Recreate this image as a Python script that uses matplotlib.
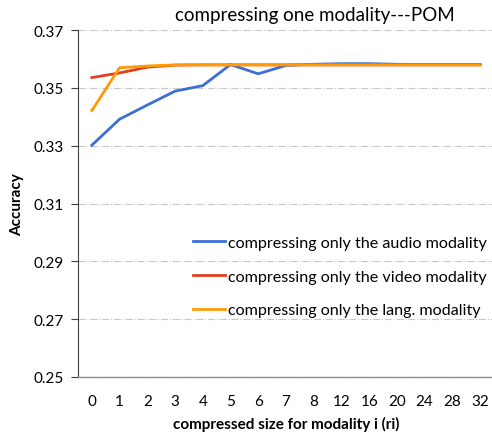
import matplotlib.pyplot as plt
import numpy as np

sizes = ['0', '1', '2', '3', '4', '5', '6', '7', '8', '12', '16', '20', '24', '28', '32']
audio = [0.3302, 0.3392, 0.3441, 0.3489, 0.3508, 0.3581, 0.3549, 0.3578, 0.3582, 0.3584, 0.3584, 0.3582, 0.3581, 0.3581, 0.3581]
video = [0.3536, 0.3552, 0.3572, 0.3579, 0.3580, 0.3580, 0.3580, 0.3580, 0.3580, 0.3580, 0.3580, 0.3580, 0.3580, 0.3580, 0.3580]
lang = [0.3422, 0.3570, 0.3576, 0.3580, 0.3580, 0.3580, 0.3580, 0.3580, 0.3580, 0.3580, 0.3580, 0.3580, 0.3580, 0.3580, 0.3580]

plt.rcParams['font.family'] = ['Lato', 'DejaVu Sans']

fig = plt.figure(figsize=(4.92, 4.39), dpi=100)
ax = fig.add_axes([0.1585, 0.139, 0.8455, 0.790])

x = np.arange(len(sizes))
ax.plot(x, audio, color='#3b6fd6', lw=2.0, label='compressing only the audio modality')
ax.plot(x, video, color='#e0401c', lw=2.0, label='compressing only the video modality')
ax.plot(x, lang, color='#ff9a05', lw=2.0, label='compressing only the lang. modality')

ax.set_xlim(-0.5, len(sizes) - 0.5)
ax.set_ylim(0.25, 0.37)
ax.set_yticks(np.arange(0.25, 0.3701, 0.02))
ax.set_yticklabels(['%.2f' % v for v in np.arange(0.25, 0.3701, 0.02)])
ax.set_xticks(x)
ax.set_xticklabels(sizes)
ax.tick_params(axis='x', length=0, pad=12, labelsize=11)
ax.tick_params(axis='y', length=5, width=0.8, color='#404040', pad=5, labelsize=11)

ax.grid(axis='y', linestyle='-.', color='#c8c8c8', lw=0.8)
ax.set_axisbelow(True)
for s in ['top', 'right']:
    ax.spines[s].set_visible(False)
ax.spines['left'].set_color('#404040')
ax.spines['bottom'].set_color('#8c8c8c')
ax.spines['bottom'].set_linewidth(1.0)

ax.set_xlabel('compressed size for modality i (ri)', fontweight='bold', fontsize=11, labelpad=6)
ax.set_ylabel('Accuracy', fontweight='bold', fontsize=11, labelpad=7)
fig.text(0.64, 0.965, 'compressing one modality---POM', ha='center', va='center', fontsize=13.5)

ax.legend(loc='center left', bbox_to_anchor=(0.26, 0.29), frameon=False, fontsize=11.6,
          handlelength=2.0, handletextpad=0.2, labelspacing=1.2, borderaxespad=0)

fig.savefig('out.png', dpi=100)
